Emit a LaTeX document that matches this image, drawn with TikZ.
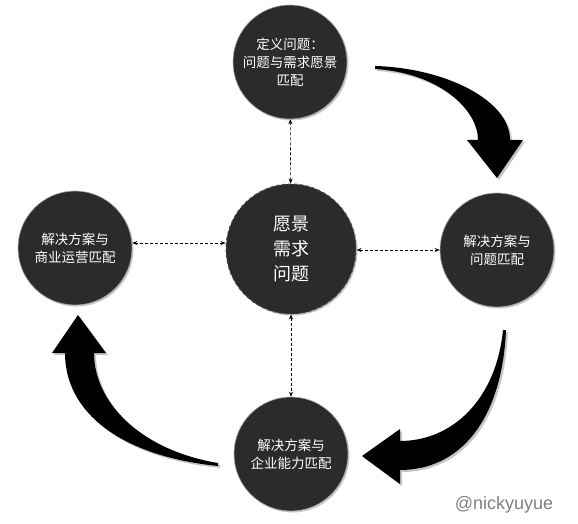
\documentclass[tikz,border=0pt]{standalone}
\usepackage{fontspec}
\newfontfamily\cjk{Noto Sans CJK SC}
\setmainfont{Liberation Sans}
\usetikzlibrary{arrows.meta,shadows}
\definecolor{ballc}{HTML}{2B2B2B}
\definecolor{wm}{HTML}{808080}
\tikzset{
  ball/.style={circle, fill=ballc, draw=gray!70, line width=0.6pt, minimum size=114pt, inner sep=0pt,
    text=white, align=center, font=\cjk\fontsize{13.5}{18}\selectfont,
    drop shadow={shadow xshift=1.5pt, shadow yshift=-1.5pt, fill=gray!55, opacity=0.8}},
  coreball/.style={ball, minimum size=130pt, draw=gray!60!black, dashed, line width=1pt,
    font=\cjk\fontsize{18}{25}\selectfont},
  link/.style={densely dashed, line width=0.6pt, {Stealth[length=5pt,width=4pt]}-{Stealth[length=5pt,width=4pt]}},
  bigarrow/.style={fill=black},
  bigshadow/.style={fill=gray!45}
}
\begin{document}
\begin{tikzpicture}[x=1pt,y=-1pt]
\useasboundingbox[fill=white] (0,0) rectangle (578,524);
% nodes
\node[ball] (top) at (290,62) {定义问题：\\问题与需求愿景\\匹配};
\node[coreball] (core) at (291,249) {愿景\\需求\\问题};
\node[ball] (right) at (497,250) {解决方案与\\问题匹配};
\node[ball] (left) at (75,248) {解决方案与\\商业运营匹配};
\node[ball] (bottom) at (291,454) {解决方案与\\企业能力匹配};
% dotted links
\draw[link] (top) -- (core);
\draw[link] (left.east |- 0,243) -- (core.west |- 0,243);
\draw[link] (core.east |- 0,250) -- (right.west |- 0,250);
\draw[link] (core) -- (bottom);
% big arrows
\foreach \s/\d in {bigshadow/2, bigarrow/0}{
\begin{scope}[shift={(\d,\d)}]
% top -> right
\path[\s] (375,66) .. controls (445,68) and (510,100) .. (510,140) -- (523,140) -- (497,178) -- (467,140) -- (478,140)
  .. controls (478,110) and (440,73) .. (375,69) -- cycle;
% right -> bottom
\path[\s] (506,330) .. controls (502,420) and (460,470) .. (400,470) -- (400,484) -- (362,456) -- (400,429) -- (400,441)
  .. controls (452,441) and (496,400) .. (503,330) -- cycle;
% bottom -> left
\path[\s] (218,466) .. controls (120,456) and (65,412) .. (65,353) -- (52,353) -- (78,315) -- (106,353) -- (94,353)
  .. controls (94,402) and (140,450) .. (218,463) -- cycle;
\end{scope}}
% watermark
\node[text=wm, font=\fontsize{18}{20}\selectfont] (wmk) at (504,505) {@nickyuyue};
\end{tikzpicture}
\end{document}
